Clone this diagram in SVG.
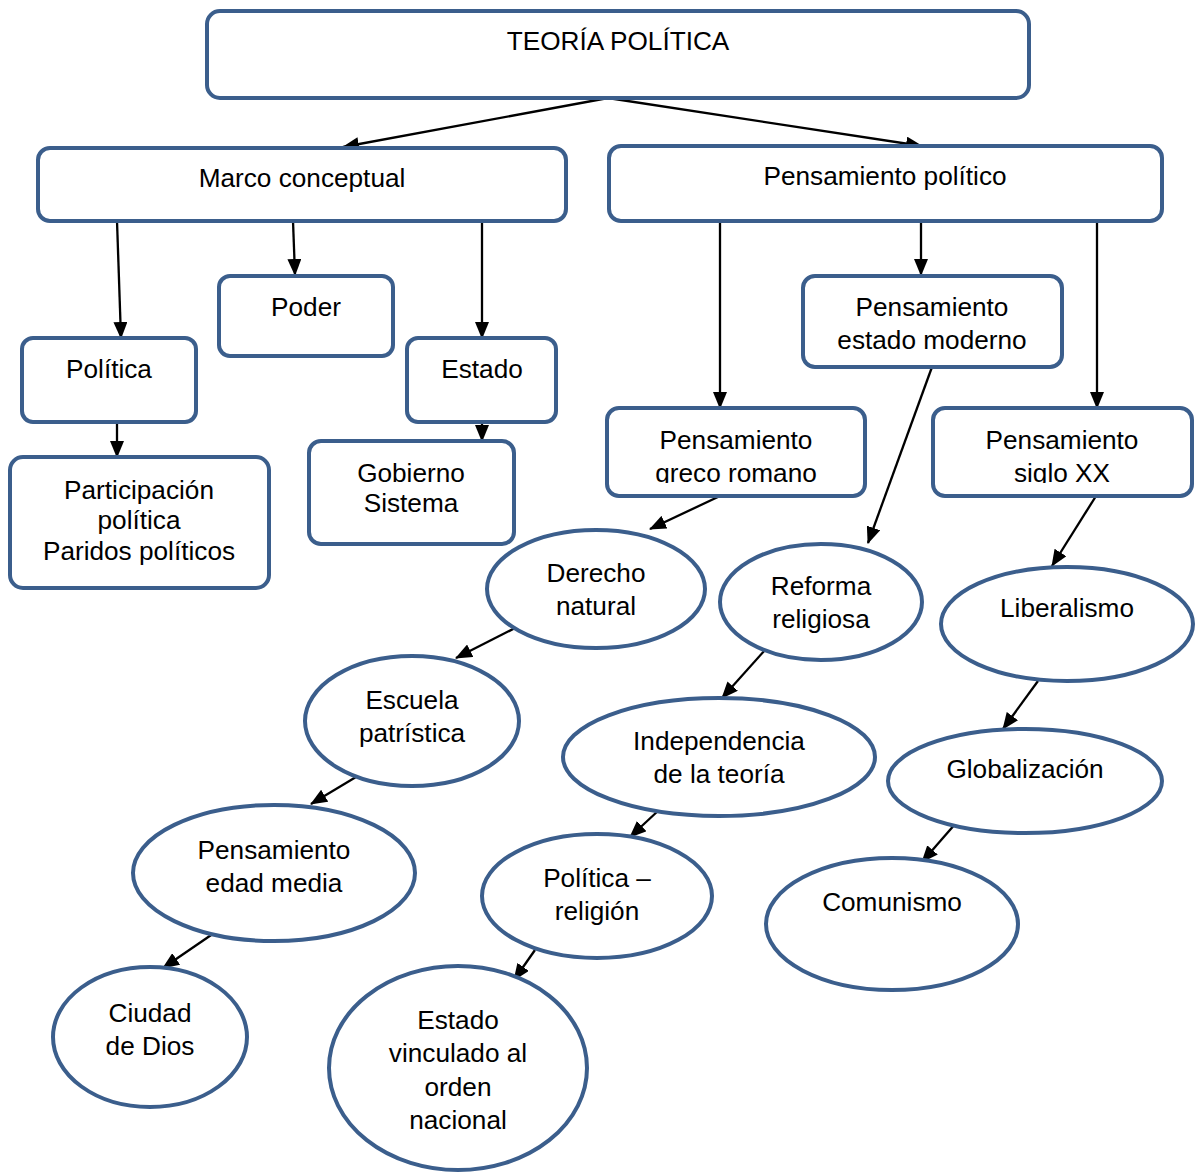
<svg xmlns="http://www.w3.org/2000/svg" width="1197" height="1172" viewBox="0 0 1197 1172">
<style>
.n{fill:#fff;stroke:#3B5E8C;stroke-width:4}
.t{font-family:"Liberation Sans",Arial,sans-serif;font-size:26.2px;fill:#000;text-anchor:middle}
.c{stroke:#000;stroke-width:2.3;fill:none;marker-end:url(#ah)}
</style>
<defs>
<marker id="ah" markerUnits="userSpaceOnUse" markerWidth="17" markerHeight="14" refX="16" refY="7" orient="auto">
<path d="M0,0 L17,7 L0,14 z" fill="#000"/>
</marker>
<clipPath id="cg"><rect x="600" y="400" width="270" height="83"/></clipPath>
<clipPath id="cs"><rect x="925" y="400" width="270" height="83"/></clipPath>
</defs>
<rect width="1197" height="1172" fill="#fff"/>
<g id="connectors">
<line class="c" x1="608" y1="98" x2="343" y2="147"/>
<line class="c" x1="608" y1="98" x2="922" y2="146"/>
<line class="c" x1="117" y1="221" x2="121" y2="338"/>
<line class="c" x1="293" y1="221" x2="295" y2="275"/>
<line class="c" x1="482" y1="221" x2="482" y2="338"/>
<line class="c" x1="117" y1="422" x2="117" y2="457"/>
<line class="c" x1="482" y1="422" x2="482" y2="441"/>
<line class="c" x1="720" y1="221" x2="720" y2="408"/>
<line class="c" x1="921" y1="221" x2="921" y2="275"/>
<line class="c" x1="1097" y1="221" x2="1097" y2="408"/>
<line class="c" x1="932" y1="367" x2="868" y2="543"/>
<line class="c" x1="720" y1="496" x2="650" y2="529"/>
<line class="c" x1="1096" y1="496" x2="1052" y2="566"/>
<line class="c" x1="519" y1="626" x2="456" y2="658"/>
<line class="c" x1="765" y1="650" x2="722" y2="698"/>
<line class="c" x1="1038" y1="681" x2="1003" y2="729"/>
<line class="c" x1="356" y1="777" x2="311" y2="804"/>
<line class="c" x1="659" y1="810" x2="630" y2="837"/>
<line class="c" x1="956" y1="823" x2="922" y2="862"/>
<line class="c" x1="217" y1="931" x2="163" y2="968"/>
<line class="c" x1="535" y1="950" x2="514" y2="980"/>
</g>
<g id="teoria"><rect class="n" x="207" y="11" width="822" height="87" rx="13"/><text class="t" x="618" y="50">TEORÍA POLÍTICA</text></g>
<g id="marco"><rect class="n" x="38" y="148" width="528" height="73" rx="12"/><text class="t" x="302" y="187">Marco conceptual</text></g>
<g id="pensamiento-politico"><rect class="n" x="609" y="146" width="553" height="75" rx="12"/><text class="t" x="885" y="185">Pensamiento político</text></g>
<g id="poder"><rect class="n" x="219" y="276" width="174" height="80" rx="11"/><text class="t" x="306" y="316">Poder</text></g>
<g id="politica"><rect class="n" x="22" y="338" width="174" height="84" rx="11"/><text class="t" x="109" y="378">Política</text></g>
<g id="estado"><rect class="n" x="407" y="338" width="149" height="84" rx="11"/><text class="t" x="482" y="378">Estado</text></g>
<g id="participacion"><rect class="n" x="10" y="457" width="259" height="131" rx="13"/><text class="t" x="139" y="499">Participación</text><text class="t" x="139" y="529">política</text><text class="t" x="139" y="560">Paridos políticos</text></g>
<g id="gobierno"><rect class="n" x="309" y="441" width="205" height="103" rx="12"/><text class="t" x="411" y="482">Gobierno</text><text class="t" x="411" y="512">Sistema</text></g>
<g id="estado-moderno"><rect class="n" x="803" y="276" width="259" height="91" rx="12"/><text class="t" x="932" y="316">Pensamiento</text><text class="t" x="932" y="349">estado moderno</text></g>
<g id="greco"><rect class="n" x="607" y="408" width="258" height="88" rx="12"/><g clip-path="url(#cg)"><text class="t" x="736" y="449">Pensamiento</text><text class="t" x="736" y="482">greco romano</text></g></g>
<g id="siglo-xx"><rect class="n" x="933" y="408" width="259" height="88" rx="12"/><g clip-path="url(#cs)"><text class="t" x="1062" y="449">Pensamiento</text><text class="t" x="1062" y="482">siglo XX</text></g></g>
<g id="derecho"><ellipse class="n" cx="596" cy="589" rx="109" ry="59"/><text class="t" x="596" y="582">Derecho</text><text class="t" x="596" y="615">natural</text></g>
<g id="reforma"><ellipse class="n" cx="821" cy="602" rx="101" ry="58"/><text class="t" x="821" y="595">Reforma</text><text class="t" x="821" y="628">religiosa</text></g>
<g id="liberalismo"><ellipse class="n" cx="1067" cy="624" rx="126" ry="57"/><text class="t" x="1067" y="617">Liberalismo</text></g>
<g id="escuela"><ellipse class="n" cx="412" cy="721" rx="107" ry="65"/><text class="t" x="412" y="709">Escuela</text><text class="t" x="412" y="742">patrística</text></g>
<g id="independencia"><ellipse class="n" cx="719" cy="757" rx="156" ry="59"/><text class="t" x="719" y="750">Independencia</text><text class="t" x="719" y="783">de la teoría</text></g>
<g id="globalizacion"><ellipse class="n" cx="1025" cy="781" rx="137" ry="52"/><text class="t" x="1025" y="778">Globalización</text></g>
<g id="edad-media"><ellipse class="n" cx="274" cy="873" rx="141" ry="68"/><text class="t" x="274" y="859">Pensamiento</text><text class="t" x="274" y="892">edad media</text></g>
<g id="politica-religion"><ellipse class="n" cx="597" cy="896" rx="115" ry="62"/><text class="t" x="597" y="887">Política –</text><text class="t" x="597" y="920">religión</text></g>
<g id="comunismo"><ellipse class="n" cx="892" cy="924" rx="126" ry="66"/><text class="t" x="892" y="911">Comunismo</text></g>
<g id="ciudad"><ellipse class="n" cx="150" cy="1037" rx="97" ry="70"/><text class="t" x="150" y="1022">Ciudad</text><text class="t" x="150" y="1055">de Dios</text></g>
<g id="estado-vinculado"><ellipse class="n" cx="458" cy="1068" rx="129" ry="102"/><text class="t" x="458" y="1029">Estado</text><text class="t" x="458" y="1062">vinculado al</text><text class="t" x="458" y="1096">orden</text><text class="t" x="458" y="1129">nacional</text></g>
</svg>
